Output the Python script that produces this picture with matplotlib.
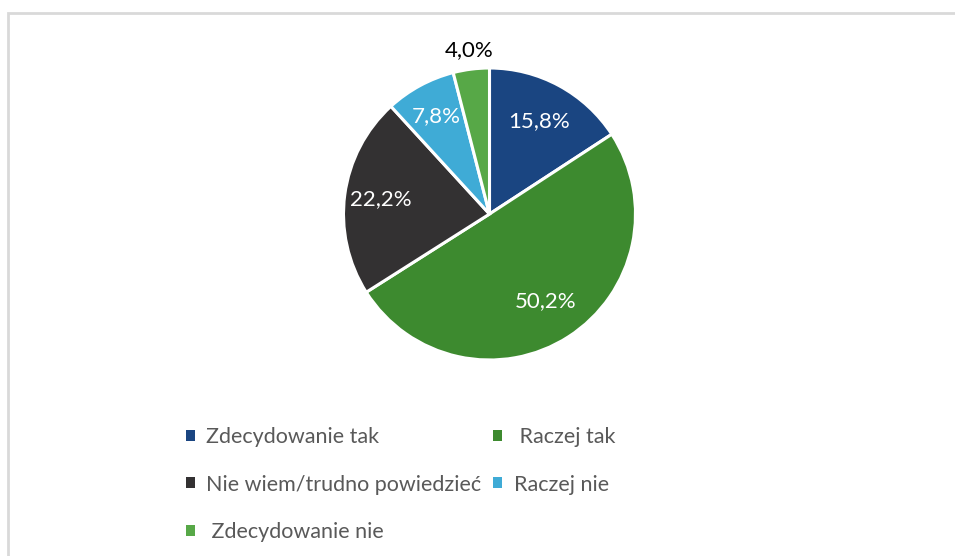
import matplotlib.pyplot as plt
from matplotlib.patches import Rectangle
import numpy as np

plt.rcParams['font.family'] = ['Lato', 'DejaVu Sans']

# survey answers and their shares (%)
labels = ["Zdecydowanie tak", " Raczej tak", "Nie wiem/trudno powiedzieć", "Raczej nie", " Zdecydowanie nie"]
values = [15.8, 50.2, 22.2, 7.8, 4.0]
colors = ["#1a4581", "#3d8a2f", "#333132", "#3fabd6", "#57a847"]
label_dist = [0.72, 0.71, 0.75, 0.76, 1.13]
label_color = ["white", "white", "white", "white", "black"]

W, H = 955, 556
fig = plt.figure(figsize=(W / 100, H / 100), dpi=100)

# pie axes placed by pixel centre and radius
cx, cy, r = 489.5, 214, 146
ax = fig.add_axes([(cx - r) / W, 1 - (cy + r) / H, 2 * r / W, 2 * r / H])
wedges, _ = ax.pie(values, colors=colors, startangle=90, counterclock=False,
                   wedgeprops=dict(edgecolor="white", linewidth=2.2))
ax.set_xlim(-1, 1)
ax.set_ylim(-1, 1)
ax.set_aspect("equal")
ax.axis("off")

# percentage labels at the middle angle of each wedge
for w, v, d, c in zip(wedges, values, label_dist, label_color):
    ang = np.deg2rad((w.theta1 + w.theta2) / 2)
    ax.text(d * np.cos(ang), d * np.sin(ang), f"{v:.1f}%".replace(".", ","),
            ha="center", va="center", fontsize=16, color=c)

# legend laid out row by row in two columns
order = [0, 2, 4, 1, 3]
leg = fig.legend([wedges[i] for i in order], [labels[i] for i in order],
                 ncol=2, loc="upper left", bbox_to_anchor=(186 / W, 1 - 427 / H),
                 frameon=False, fontsize=15.5, handlelength=0.4, handleheight=0.4,
                 handletextpad=0.55, labelspacing=1.28, columnspacing=0.55,
                 borderpad=0, borderaxespad=0)
for t in leg.get_texts():
    t.set_color("#595959")
for h in leg.legend_handles:
    h.set_edgecolor("none")

# light grey chart border (top and left edges visible)
fig.add_artist(Rectangle((8 / W, -0.1), 1.2, 1.1 - 13 / H, transform=fig.transFigure,
                         fill=False, edgecolor="#d9d9d9", linewidth=2))

fig.savefig("out.png", dpi=100)
